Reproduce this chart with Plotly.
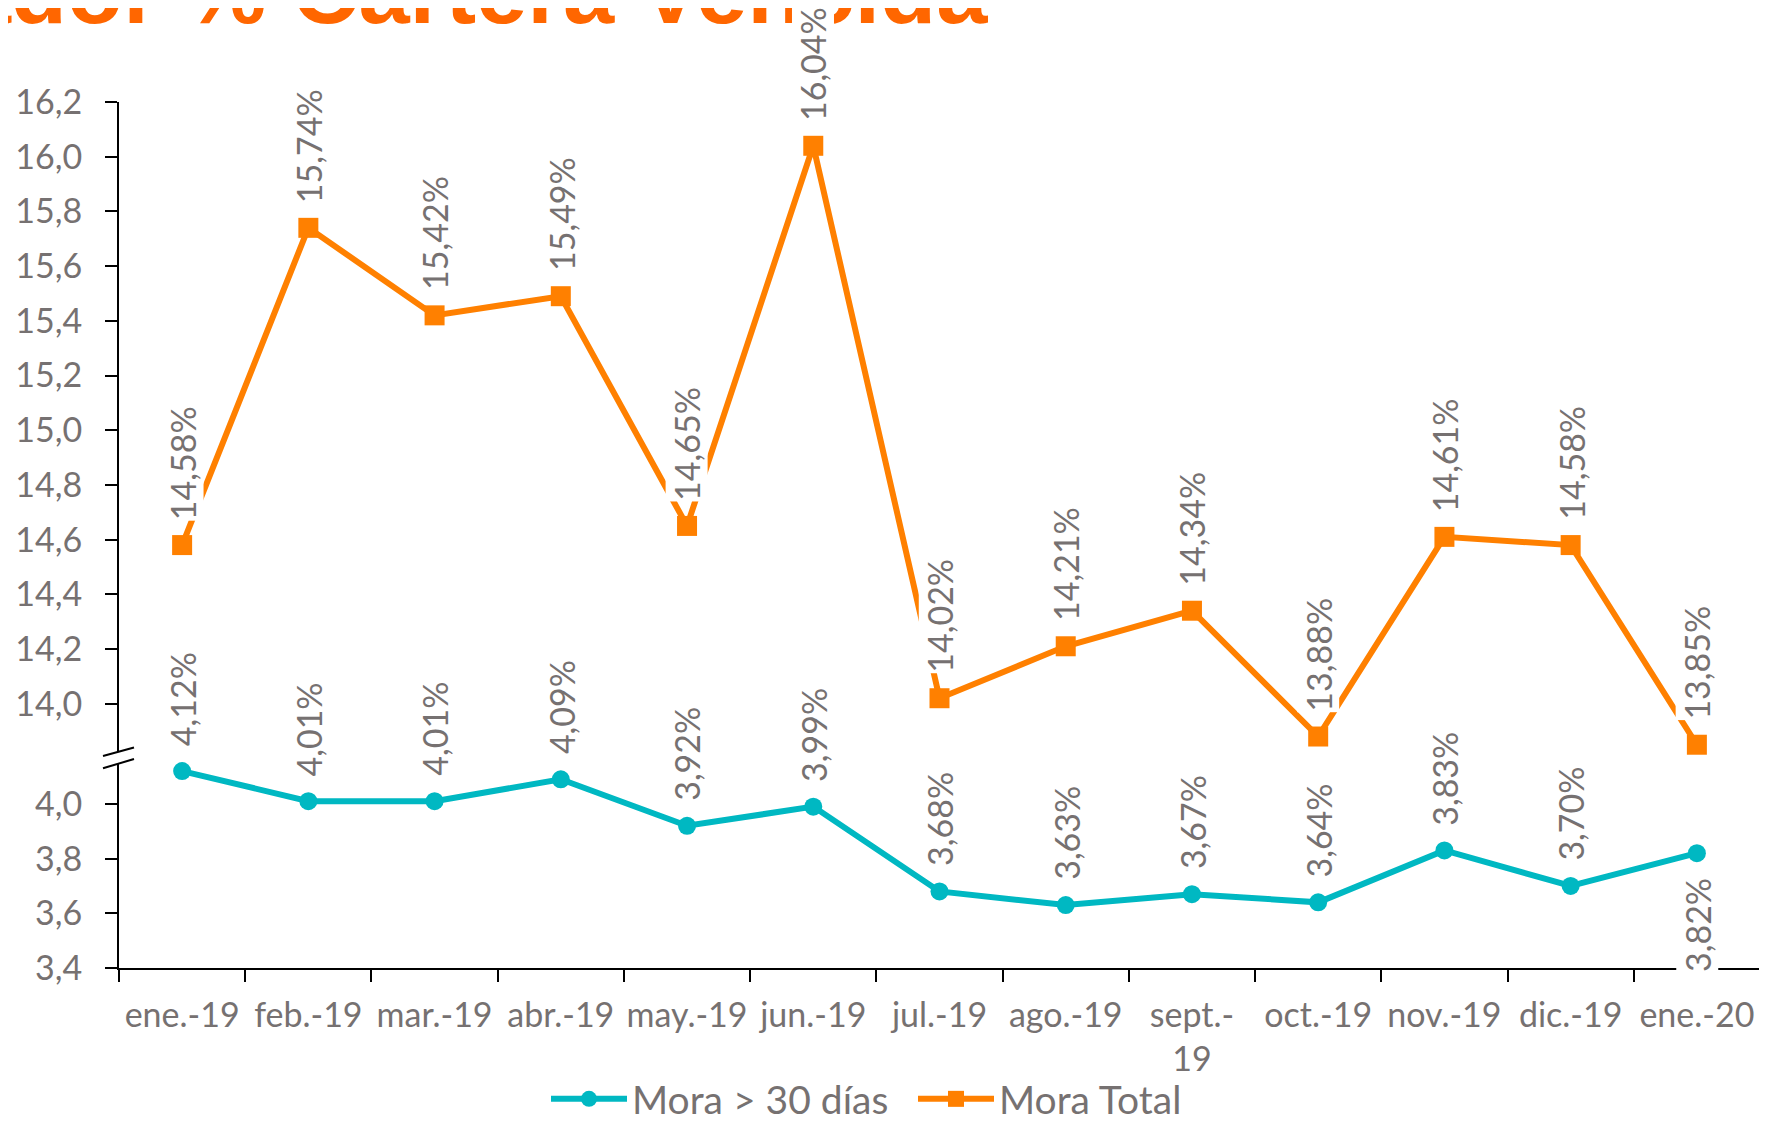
import plotly.graph_objects as go

# ---------------- data ----------------
months = ["ene.-19", "feb.-19", "mar.-19", "abr.-19", "may.-19", "jun.-19", "jul.-19",
          "ago.-19", "sept.-<br>19", "oct.-19", "nov.-19", "dic.-19", "ene.-20"]
mora_30 = [4.12, 4.01, 4.01, 4.09, 3.92, 3.99, 3.68, 3.63, 3.67, 3.64, 3.83, 3.70, 3.82]
mora_total = [14.58, 15.74, 15.42, 15.49, 14.65, 16.04, 14.02, 14.21, 14.34, 13.88, 14.61, 14.58, 13.85]
# label placed below the point (True) instead of above
mora_30_below = [False] * 12 + [True]

upper_ticks = [14.0, 14.2, 14.4, 14.6, 14.8, 15.0, 15.2, 15.4, 15.6, 15.8, 16.0, 16.2]
lower_ticks = [3.4, 3.6, 3.8, 4.0]

title_text = "Indicador % Cartera Vencida"
name_30 = "Mora > 30 días"
name_total = "Mora Total"

# ---------------- styles ----------------
TEAL = "#00B8C2"
ORANGE = "#FF8000"
GRAY = "#767171"
FONT = "Lato"

W, H = 1767, 1124
OFF = 8  # page body margin offset
ML, MR, MT, MB = 111, 15, 94, 164
PW, PH = W - ML - MR, H - MT - MB


def px_x(p):
    """page pixel x -> paper x"""
    return (p - OFF - ML) / PW


def px_y(p):
    """page pixel y -> paper y"""
    return (H - MB - (p - OFF)) / PH


def fmt(v):
    return f"{v:.2f}".replace(".", ",") + "%"


fig = go.Figure()
fig.add_trace(go.Scatter(
    x=months, y=mora_30, name=name_30, mode="lines+markers",
    line=dict(color=TEAL, width=6), marker=dict(symbol="circle", size=18, color=TEAL),
    xaxis="x", yaxis="y", cliponaxis=False))
fig.add_trace(go.Scatter(
    x=months, y=mora_total, name=name_total, mode="lines+markers",
    line=dict(color=ORANGE, width=6), marker=dict(symbol="square", size=20, color=ORANGE),
    xaxis="x", yaxis="y2", cliponaxis=False))

annotations = []
# title (partly cut off at the top in the reference)
annotations.append(dict(
    text="<b>" + title_text + "</b>", xref="paper", yref="paper",
    x=px_x(990), y=px_y(44), xanchor="right", yanchor="bottom", showarrow=False,
    font=dict(family="Liberation Sans", size=92, color="#FF6600")))

LABEL_SIZE = 34
for m, v, below in zip(months, mora_30, mora_30_below):
    annotations.append(dict(
        x=m, y=v, xref="x", yref="y", text=fmt(v), textangle=-90, showarrow=False,
        xanchor="center", yanchor="top" if below else "bottom",
        yshift=-24 if below else 24, bgcolor="white", borderpad=0,
        font=dict(family=FONT, size=LABEL_SIZE, color=GRAY)))
for m, v in zip(months, mora_total):
    annotations.append(dict(
        x=m, y=v, xref="x", yref="y2", text=fmt(v), textangle=-90, showarrow=False,
        xanchor="center", yanchor="bottom", yshift=24, bgcolor="white", borderpad=0,
        font=dict(family=FONT, size=LABEL_SIZE, color=GRAY)))

# axis break marks
shapes = []
for (x0, y0, x1, y1) in [(103, 756, 134, 747.5), (103, 768.3, 134, 759)]:
    shapes.append(dict(type="line", xref="paper", yref="paper",
                       x0=px_x(x0), y0=px_y(y0), x1=px_x(x1), y1=px_y(y1),
                       line=dict(color="black", width=2)))

upper_bottom = px_y(752)
lower_top = px_y(763.7)
ppu = 273.5

axis_common = dict(showline=True, linecolor="black", linewidth=2, ticks="outside",
                   ticklen=12, tickwidth=2, tickcolor="black", showgrid=False,
                   zeroline=False, tickfont=dict(family=FONT, size=34, color=GRAY),
                   tickformat=".1f", ticklabelstandoff=16, automargin=False)

fig.update_layout(
    width=W, height=H, margin=dict(l=ML, r=MR, t=MT, b=MB, autoexpand=False),
    paper_bgcolor="white", plot_bgcolor="white",
    separators=",.",
    showlegend=True,
    legend=dict(orientation="h", x=px_x(546), y=px_y(1099), xanchor="left", yanchor="middle",
                font=dict(family=FONT, size=39, color=GRAY), itemwidth=76,
                entrywidth=276, entrywidthmode="pixels",
                bgcolor="rgba(0,0,0,0)"),
    xaxis=dict(type="category", anchor="y", range=[-0.5, 12.5], showline=True,
               linecolor="black", linewidth=2, ticks="outside", ticklen=12, tickwidth=2,
               tickcolor="black", tickson="boundaries", showgrid=False, automargin=False,
               tickfont=dict(family=FONT, size=34, color=GRAY), tickangle=0,
               ticklabelstandoff=16),
    yaxis=dict(domain=[0, lower_top], range=[3.4, 3.4 + (H - MB + OFF - 763.7) / ppu],
               tickvals=lower_ticks, anchor="x", **axis_common),
    yaxis2=dict(domain=[upper_bottom, 1], range=[16.2 - (752 - OFF - MT) / ppu, 16.2001],
                tickvals=upper_ticks, anchor="x", **axis_common),
    annotations=annotations, shapes=shapes,
)

fig.write_html("out.html")
